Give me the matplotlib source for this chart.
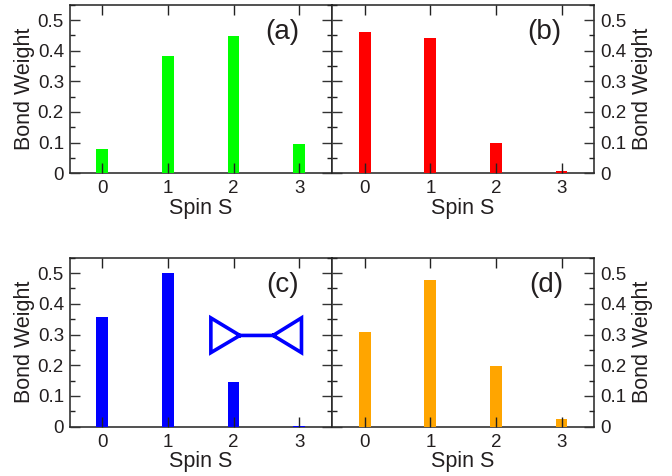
import matplotlib
matplotlib.use("Agg")
import matplotlib.pyplot as plt
from matplotlib.ticker import MultipleLocator

plt.rcParams['font.family'] = ['Liberation Sans', 'DejaVu Sans']

W, H = 672, 476
spins = [0, 1, 2, 3]
weights_a = [0.078, 0.383, 0.447, 0.096]
weights_b = [0.460, 0.440, 0.099, 0.008]
weights_c = [0.358, 0.500, 0.144, 0.001]
weights_d = [0.307, 0.477, 0.197, 0.025]
y_ticks = [0, 0.1, 0.2, 0.3, 0.4, 0.5]
y_labels = ['0', '0.1', '0.2', '0.3', '0.4', '0.5']
bow_x = [2.096, 1.654, 1.654, 2.096, 2.603, 3.035, 3.035, 2.603]
bow_y = [0.297, 0.354, 0.241, 0.297, 0.297, 0.354, 0.241, 0.297]

TEXT = '#231f20'
fig = plt.figure(figsize=(W / 100, H / 100), dpi=100)


def panel(box, values, color, tag, tag_x, right):
    l, t, r, b = box
    ax = fig.add_axes([l / W, 1 - b / H, (r - l) / W, (b - t) / H])
    ax.bar(spins, values, width=0.18, color=color, zorder=2)
    ax.set_xlim(-0.5, 3.5)
    ax.set_ylim(0, 0.55)
    ax.set_xticks(spins)
    ax.set_yticks(y_ticks, y_labels)
    ax.yaxis.set_minor_locator(MultipleLocator(0.05))
    ax.set_axisbelow(False)
    ax.tick_params(axis='x', which='major', direction='in', top=True, bottom=True,
                   length=7.5, width=1.0, labelsize=13.5, pad=5, labelcolor=TEXT, color='#222222')
    ax.tick_params(axis='y', which='major', direction='in', left=True, right=True,
                   length=7.5, width=1.0, labelsize=13.5, pad=4, labelcolor=TEXT, color='#333333',
                   labelleft=not right, labelright=right)
    ax.tick_params(axis='y', which='minor', direction='in', left=True, right=True,
                   length=3.8, width=1.0, color='#222222')
    for s in ax.spines.values():
        s.set_linewidth(1.1)
        s.set_color('#222222')
        s.set_zorder(1)
    ax.set_xlabel('Spin S', fontsize=15.5, color=TEXT, labelpad=0.5)
    ax.set_ylabel('Bond Weight', fontsize=15.5, color=TEXT, labelpad=4.5 if right else 2)
    if right:
        ax.yaxis.set_label_position('right')
    ax.text(tag_x, 0.462, tag, fontsize=20, color=TEXT, ha='center', va='center')
    return ax


ax_a = panel((69.5, 4.7, 332, 173.3), weights_a, '#00ff00', '(a)', 2.75, False)
ax_b = panel((332, 4.7, 594.3, 173.3), weights_b, '#ff0000', '(b)', 2.74, True)
ax_c = panel((69.5, 257.7, 332, 426.7), weights_c, '#0000ff', '(c)', 2.75, False)
ax_d = panel((332, 257.7, 594.3, 426.7), weights_d, '#ffa500', '(d)', 2.77, True)
ax_c.plot(bow_x, bow_y, color='#0000ff', lw=2.6, solid_joinstyle='miter', zorder=3)

fig.savefig('out.png', dpi=100)
